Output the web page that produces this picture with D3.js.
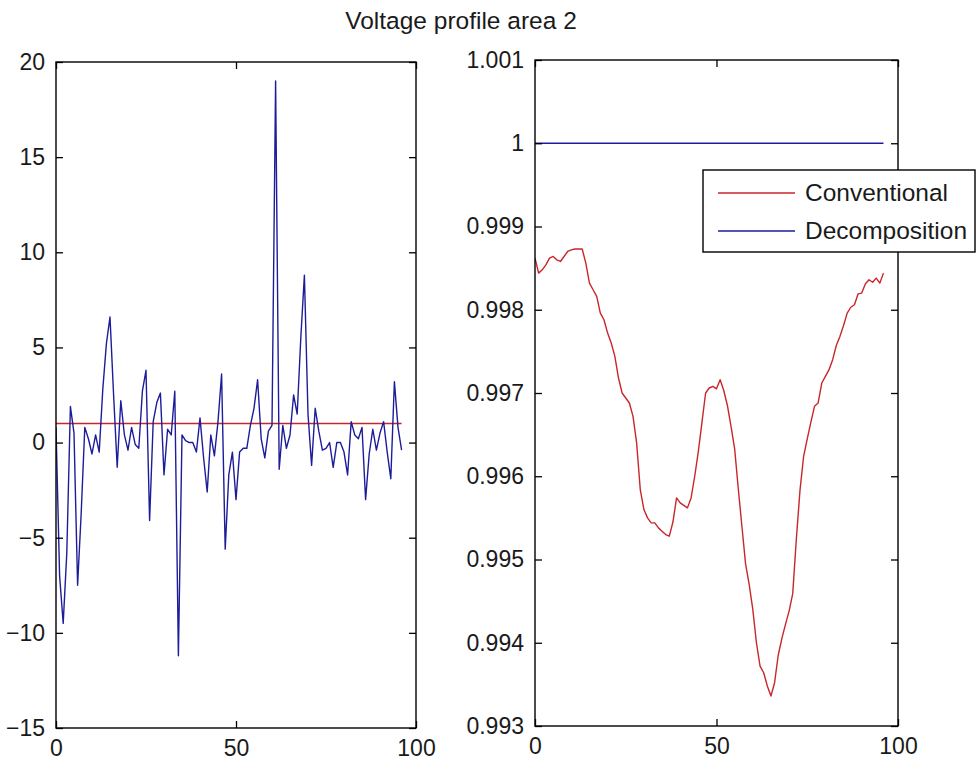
<!DOCTYPE html>
<html>
<head>
<meta charset="utf-8">
<script src="https://cdn.jsdelivr.net/npm/d3@7"></script>
<style>
  html, body { margin: 0; padding: 0; background: #fff; }
  svg { display: block; }
  text { font-family: "Liberation Sans", Arial, sans-serif; fill: #1a1a1a; }
</style>
</head>
<body>
<svg id="chart" width="978" height="763"></svg>
<script>
// ---------------- data ----------------
const chartTitle = "Voltage profile area 2";
const seriesNames = ["Conventional", "Decomposition"];
const timeSteps = d3.range(0, 97); // x positions 0..96

// Left panel
const leftConventional = [
  1,1,1,1,1,1,1,1,1,1,1,1,1,1,1,1,1,1,1,1,1,1,1,1,1,1,1,1,1,1,1,1,1,
  1,1,1,1,1,1,1,1,1,1,1,1,1,1,1,1,1,1,1,1,1,1,1,1,1,1,1,1,1,1,1,1,1,
  1,1,1,1,1,1,1,1,1,1,1,1,1,1,1,1,1,1,1,1,1,1,1,1,1,1,1,1,1,1,1
];
const leftDecomposition = [
  0.8, -7.0, -9.5, -5.8, 1.9, 0.5, -7.5, -3.7, 0.8, 0.2,
  -0.6, 0.4, -0.5, 2.8, 5.2, 6.6, 2.5, -1.3, 2.2, 0.4,
  -0.4, 0.8, -0.1, -0.3, 2.7, 3.8, -4.1, 1.1, 2.1, 2.6,
  -1.7, 0.7, 0.4, 2.7, -11.2, 0.4, 0.1, 0.0, 0.0, -0.5,
  1.3, -0.8, -2.6, 0.4, -0.7, 1.1, 3.6, -5.6, -1.7, -0.5,
  -3.0, -0.5, -0.3, -0.3, 0.9, 1.8, 3.3, 0.2, -0.8, 0.6,
  0.9, 19.0, -1.4, 0.9, -0.3, 0.4, 2.5, 1.5, 5.5, 8.8,
  1.5, -1.2, 1.8, 0.6, -0.4, -0.3, 0.0, -1.3, 0.0, 0.0,
  -0.5, -1.7, 1.1, 0.4, 0.2, 0.8, -3.0, -0.6, 0.7, -0.4,
  0.5, 1.1, -0.5, -1.9, 3.2, 0.8, -0.4
];

// Right panel
const rightConventional = [
  0.99862, 0.99844, 0.99848, 0.99854, 0.99862, 0.99864, 0.99860, 0.99858, 0.99864, 0.99870,
  0.99872, 0.99873, 0.99873, 0.99873, 0.99856, 0.99832, 0.99824, 0.99816, 0.99796, 0.99788,
  0.99772, 0.99760, 0.99744, 0.99718, 0.99700, 0.99694, 0.99688, 0.99672, 0.99640, 0.99584,
  0.99560, 0.99550, 0.99544, 0.99544, 0.99538, 0.99534, 0.99530, 0.99528, 0.99545, 0.99574,
  0.99568, 0.99565, 0.99562, 0.99574, 0.99600, 0.99630, 0.99665, 0.99700, 0.99706, 0.99708,
  0.99705, 0.99716, 0.99703, 0.99685, 0.99660, 0.99633, 0.99585, 0.99540, 0.99495, 0.99470,
  0.99440, 0.99400, 0.99372, 0.99364, 0.99348, 0.99336, 0.99352, 0.99385, 0.99405, 0.99422,
  0.99438, 0.99459, 0.99525, 0.99583, 0.99624, 0.99645, 0.99665, 0.99684, 0.99688, 0.99712,
  0.99720, 0.99728, 0.99740, 0.99757, 0.99768, 0.99781, 0.99796, 0.99803, 0.99806, 0.99819,
  0.99820, 0.99831, 0.99836, 0.99833, 0.99838, 0.99832, 0.99844
];
const rightDecomposition = [
  1,1,1,1,1,1,1,1,1,1,1,1,1,1,1,1,1,1,1,1,1,1,1,1,1,1,1,1,1,1,1,1,1,
  1,1,1,1,1,1,1,1,1,1,1,1,1,1,1,1,1,1,1,1,1,1,1,1,1,1,1,1,1,1,1,1,1,
  1,1,1,1,1,1,1,1,1,1,1,1,1,1,1,1,1,1,1,1,1,1,1,1,1,1,1,1,1,1,1
];

// Ticks
const xTicks = [0, 50, 100];
const leftYTicks = [-15, -10, -5, 0, 5, 10, 15, 20];
const rightYTicks = [0.993, 0.994, 0.995, 0.996, 0.997, 0.998, 0.999, 1.000, 1.001];
const rightYTickLabels = ["0.993", "0.994", "0.995", "0.996", "0.997", "0.998", "0.999", "1", "1.001"];

// ---------------- drawing ----------------
const svg = d3.select("#chart");
const RED = "#c8262b";
const BLUE = "#1d1d9a";
const FONT = 23;

function panel(opts) {
  const { x0, x1, y0, y1, yDomain, yTicks, yLabels, series } = opts;
  const x = d3.scaleLinear().domain([0, 100]).range([x0, x1]);
  const y = d3.scaleLinear().domain(yDomain).range([y1, y0]);
  const g = svg.append("g");

  const clipId = "clip" + Math.round(x0);
  svg.append("defs").append("clipPath").attr("id", clipId)
    .append("rect").attr("x", x0).attr("y", y0).attr("width", x1 - x0).attr("height", y1 - y0);
  const line = d3.line().x((d, i) => x(timeSteps[i])).y(d => y(d));
  const lines = g.append("g").attr("clip-path", `url(#${clipId})`);
  series.forEach(s => {
    lines.append("path").datum(s.values)
      .attr("fill", "none").attr("stroke", s.color).attr("stroke-width", 1.4)
      .attr("stroke-linejoin", "round").attr("d", line);
  });

  const fmt = (d, i) => yLabels ? yLabels[i] : d3.format("d")(d);
  const left = g.append("g").attr("transform", `translate(${x0},0)`)
    .call(d3.axisLeft(y).tickValues(yTicks).tickFormat(fmt).tickSizeInner(-7).tickSizeOuter(0).tickPadding(11));
  const right = g.append("g").attr("transform", `translate(${x1},0)`)
    .call(d3.axisRight(y).tickValues(yTicks).tickFormat("").tickSizeInner(-7).tickSizeOuter(0));
  const bottom = g.append("g").attr("transform", `translate(0,${y1})`)
    .call(d3.axisBottom(x).tickValues(xTicks).tickFormat(d3.format("d")).tickSizeInner(-7).tickSizeOuter(0).tickPadding(12));
  const top = g.append("g").attr("transform", `translate(0,${y0})`)
    .call(d3.axisTop(x).tickValues(xTicks).tickFormat("").tickSizeInner(-7).tickSizeOuter(0));
  [left, right, bottom, top].forEach(a => {
    a.select(".domain").remove();
    a.selectAll(".tick line").attr("stroke", "#000").attr("stroke-width", 1.3);
    a.selectAll("text").style("font-size", FONT + "px").attr("fill", "#1a1a1a")
      .style("font-family", '"Liberation Sans", Arial, sans-serif');
  });
  bottom.selectAll(".tick text").attr("dy", "0.71em");

  g.append("rect").attr("x", x0).attr("y", y0).attr("width", x1 - x0).attr("height", y1 - y0)
    .attr("fill", "none").attr("stroke", "#000").attr("stroke-width", 1.4);
  return { x, y };
}

panel({
  x0: 56, x1: 416, y0: 62, y1: 728,
  yDomain: [-15, 20], yTicks: leftYTicks, yLabels: null,
  series: [
    { values: leftConventional, color: RED },
    { values: leftDecomposition, color: BLUE }
  ]
});

panel({
  x0: 535, x1: 898, y0: 60, y1: 726,
  yDomain: [0.993, 1.001], yTicks: rightYTicks, yLabels: rightYTickLabels,
  series: [
    { values: rightConventional, color: RED },
    { values: rightDecomposition, color: BLUE }
  ]
});

// title
svg.append("text").attr("x", 461).attr("y", 29).attr("text-anchor", "middle")
  .style("font-size", "24.5px").text(chartTitle);

// legend
const lg = svg.append("g");
lg.append("rect").attr("x", 703).attr("y", 170).attr("width", 272).attr("height", 82)
  .attr("fill", "#fff").attr("stroke", "#000").attr("stroke-width", 1.4);
const legendColors = [RED, BLUE];
const legendY = d3.scalePoint().domain(seriesNames).range([193, 231]);
seriesNames.forEach((name, i) => {
  const yy = legendY(name);
  lg.append("line").attr("x1", 718).attr("x2", 795).attr("y1", yy).attr("y2", yy)
    .attr("stroke", legendColors[i]).attr("stroke-width", 1.4);
  lg.append("text").attr("x", 805).attr("y", yy + 8).style("font-size", "24.5px").text(name);
});
</script>
</body>
</html>
